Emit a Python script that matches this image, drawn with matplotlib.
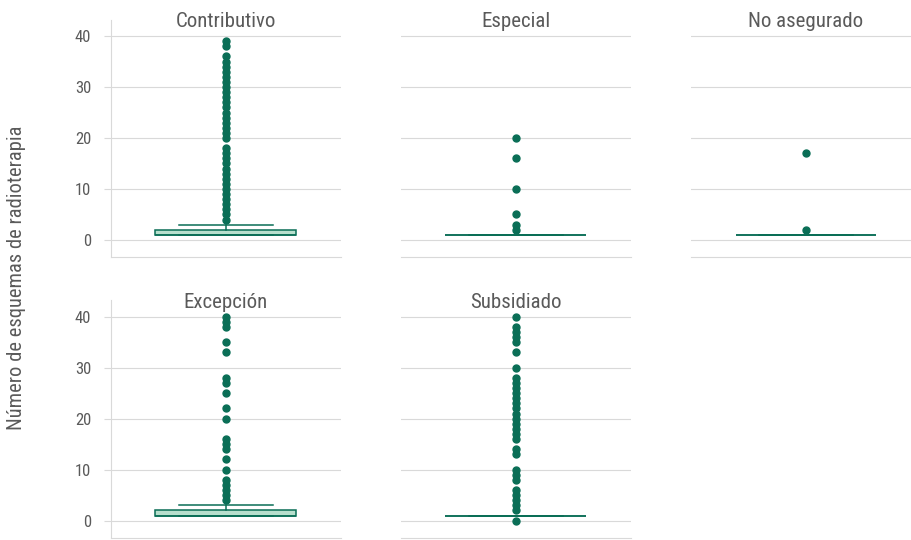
import matplotlib
matplotlib.use("Agg")
import matplotlib.pyplot as plt
from matplotlib import font_manager

# Prefer a narrow humanist sans for all labels, falling back to DejaVu Sans
preferred = ["Liberation Sans Narrow", "Roboto Condensed", "Open Sans Condensed",
             "Noto Sans Condensed", "Fira Sans Condensed", "DejaVu Sans Condensed"]
installed = {f.name for f in font_manager.fontManager.ttflist}
narrow = [n for n in preferred if n in installed]
if not narrow:
    narrow = sorted({f.name for f in font_manager.fontManager.ttflist
                     if ("condensed" in str(f.stretch).lower()
                         or "Narrow" in f.name or "Condensed" in f.name)
                     and f.style == "normal"})
plt.rcParams["font.family"] = narrow[:1] + ["DejaVu Sans"]

# Box statistics per affiliation regime
groups = ["Contributivo", "Especial", "No asegurado", "Excepción", "Subsidiado"]
q1 = [1, 1, 1, 1, 1]
medians = [1, 1, 1, 1, 1]
q3 = [2, 1, 1, 2, 1]
whis_low = [1, 1, 1, 1, 1]
whis_high = [3, 1, 1, 3, 1]
outliers = [
    [4, 5, 6, 7, 8, 9, 10, 11, 12, 13, 14, 15, 16, 17, 18,
     20, 21, 22, 23, 24, 25, 26, 27, 28, 29, 30, 31, 32, 33, 34, 35, 36, 38, 39],
    [2, 3, 5, 10, 16, 20],
    [2, 17],
    [4, 5, 6, 7, 8, 10, 12, 14, 15, 16, 20, 22, 25, 27, 28, 33, 35, 38, 39, 40],
    [0, 2, 3, 4, 5, 6, 8, 9, 10, 13, 14, 16, 17, 18, 19, 20, 21, 22, 23, 24,
     25, 26, 27, 28, 30, 33, 35, 36, 37, 38, 40],
]
y_ticks = [0, 10, 20, 30, 40]

W, H = 912, 540
DARK = "#0a6e56"
FILL = "#b7dfcd"
GRID = "#d9d9d9"
TEXT = "#5a5a5a"

fig = plt.figure(figsize=(W / 100, H / 100), dpi=100)

col_left = [110.7, 400.7, 691.0]
row_top = [19.7, 300.4]
panel_w, panel_h = 230.0, 237.1

for i, name in enumerate(groups):
    r, c = divmod(i, 3)
    ax = fig.add_axes([col_left[c] / W, 1 - (row_top[r] + panel_h) / H,
                       panel_w / W, panel_h / H])
    stats = [dict(med=medians[i], q1=q1[i], q3=q3[i],
                  whislo=whis_low[i], whishi=whis_high[i],
                  fliers=outliers[i], label=name)]
    ax.bxp(stats, positions=[1], widths=0.613, capwidths=[0.41],
           patch_artist=True, showfliers=True,
           boxprops=dict(facecolor=FILL, edgecolor=DARK, linewidth=1.1),
           medianprops=dict(color=DARK, linewidth=1.1),
           whiskerprops=dict(color=DARK, linewidth=1.1),
           capprops=dict(color=DARK, linewidth=1.1),
           flierprops=dict(marker="o", markersize=5, markerfacecolor=DARK,
                           markeredgecolor=DARK, linestyle="none"))
    ax.set_xlim(0.5, 1.5)
    ax.set_ylim(-3.3, 43.2)
    ax.set_yticks(y_ticks)
    ax.set_xticks([])
    ax.grid(axis="y", color=GRID, linewidth=0.8)
    ax.set_axisbelow(True)
    for s in ("top", "right"):
        ax.spines[s].set_visible(False)
    ax.spines["bottom"].set_color(GRID)
    ax.spines["bottom"].set_linewidth(0.8)
    if c == 0:
        ax.spines["left"].set_color(GRID)
        ax.spines["left"].set_linewidth(0.8)
        ax.tick_params(axis="y", length=5, width=0.8, color=GRID, pad=9,
                       labelsize=12, labelcolor=TEXT)
    else:
        ax.spines["left"].set_visible(False)
        ax.tick_params(axis="y", length=0, labelleft=False)
    ax.text(0.5, 41.8, name, transform=ax.get_yaxis_transform(),
            ha="center", va="baseline", fontsize=15, color=TEXT)

fig.text(17 / W, 1 - 278 / H, "Número de esquemas de radioterapia",
         rotation=90, ha="center", va="center", fontsize=14.8, color=TEXT)

fig.savefig("out.png", dpi=100)
